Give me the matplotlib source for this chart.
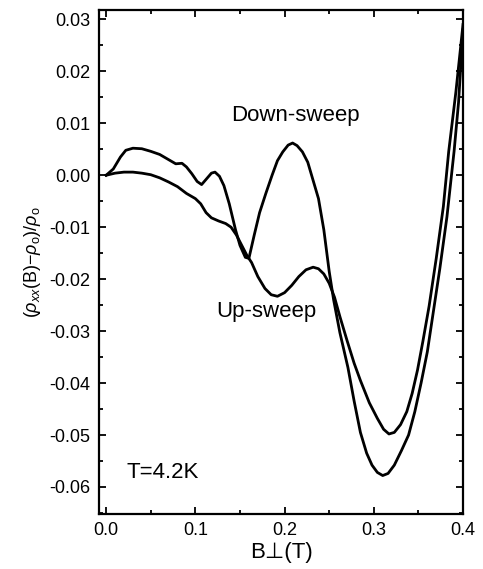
import matplotlib
matplotlib.use('Agg')
import matplotlib.pyplot as plt
from matplotlib.ticker import MultipleLocator, FormatStrFormatter

plt.rcParams['font.family'] = ['Liberation Sans', 'DejaVu Sans']
plt.rcParams['axes.unicode_minus'] = False
plt.rcParams['mathtext.fontset'] = 'custom'
plt.rcParams['mathtext.rm'] = 'Liberation Sans'
plt.rcParams['mathtext.it'] = 'Liberation Sans:italic'

# field B (T) and (rho_xx(B)-rho_0)/rho_0
b_down = [0.000, 0.008, 0.016, 0.022, 0.030, 0.040, 0.050, 0.060, 0.070, 0.078,
          0.085, 0.090, 0.096, 0.102, 0.107, 0.112, 0.118, 0.122, 0.127, 0.132,
          0.138, 0.145, 0.150, 0.156, 0.160, 0.166, 0.172, 0.179, 0.186, 0.192,
          0.198, 0.204, 0.209, 0.214, 0.220, 0.226, 0.232, 0.238, 0.244, 0.250,
          0.255, 0.262, 0.271, 0.278, 0.285, 0.292, 0.298, 0.304, 0.310, 0.316,
          0.323, 0.331, 0.339, 0.346, 0.353, 0.360, 0.367, 0.374, 0.382, 0.390,
          0.395, 0.400]
r_down = [0.0000, 0.0012, 0.0035, 0.0048, 0.0052, 0.0051, 0.0046, 0.0040, 0.0030, 0.0022,
          0.0023, 0.0016, 0.0003, -0.0012, -0.0018, -0.0008, 0.0004, 0.0006, -0.0002, -0.0020,
          -0.0055, -0.0105, -0.0135, -0.0158, -0.0160, -0.0115, -0.0072, -0.0035, 0.0000, 0.0028,
          0.0045, 0.0058, 0.0062, 0.0057, 0.0045, 0.0025, -0.0010, -0.0045, -0.0105, -0.0185,
          -0.0240, -0.0303, -0.0370, -0.0435, -0.0495, -0.0535, -0.0558, -0.0572, -0.0578, -0.0574,
          -0.0558, -0.0530, -0.0500, -0.0455, -0.0400, -0.0340, -0.0260, -0.0180, -0.0080, 0.0046,
          0.0140, 0.0280]

b_up = [0.000, 0.005, 0.010, 0.020, 0.030, 0.040, 0.050, 0.060, 0.070, 0.080,
        0.090, 0.100, 0.106, 0.112, 0.118, 0.126, 0.134, 0.140, 0.146, 0.152,
        0.158, 0.163, 0.170, 0.178, 0.185, 0.192, 0.200, 0.208, 0.216, 0.224,
        0.232, 0.238, 0.244, 0.250, 0.256, 0.262, 0.270, 0.278, 0.285, 0.295,
        0.304, 0.311, 0.317, 0.323, 0.330, 0.337, 0.343, 0.349, 0.355, 0.362,
        0.370, 0.378, 0.384, 0.392, 0.400]
r_up = [0.0000, 0.0002, 0.0004, 0.0006, 0.0006, 0.0004, 0.0001, -0.0005, -0.0013, -0.0022,
        -0.0035, -0.0045, -0.0055, -0.0072, -0.0082, -0.0088, -0.0093, -0.0100, -0.0115, -0.0135,
        -0.0155, -0.0168, -0.0195, -0.0218, -0.0230, -0.0233, -0.0226, -0.0212, -0.0195, -0.0182,
        -0.0177, -0.0180, -0.0190, -0.0208, -0.0235, -0.0272, -0.0318, -0.0362, -0.0395, -0.0438,
        -0.0468, -0.0489, -0.0498, -0.0495, -0.0480, -0.0455, -0.0420, -0.0375, -0.0320, -0.0252,
        -0.0160, -0.0060, 0.0046, 0.0160, 0.0290]

fig = plt.figure(figsize=(4.83, 5.69), dpi=100)
ax = fig.add_axes([0.205, 0.0967, 0.7536, 0.8857])

ax.plot(b_down, r_down, color='black', linewidth=2.0, solid_joinstyle='round')
ax.plot(b_up, r_up, color='black', linewidth=2.0, solid_joinstyle='round')

ax.set_xlim(-0.008, 0.4)
ax.set_ylim(-0.0652, 0.0318)

ax.xaxis.set_major_locator(MultipleLocator(0.1))
ax.xaxis.set_minor_locator(MultipleLocator(0.05))
ax.yaxis.set_major_locator(MultipleLocator(0.01))
ax.yaxis.set_minor_locator(MultipleLocator(0.005))
ax.xaxis.set_major_formatter(FormatStrFormatter('%.1f'))
ax.yaxis.set_major_formatter(FormatStrFormatter('%.2f'))

ax.tick_params(which='both', direction='in', top=True, right=True, width=1.3)
ax.tick_params(which='major', length=5, labelsize=13, pad=6)
ax.tick_params(which='minor', length=3)
for s in ax.spines.values():
    s.set_linewidth(1.6)

ax.text(0.212, 0.0115, 'Down-sweep', fontsize=16, ha='center', va='center')
ax.text(0.180, -0.0263, 'Up-sweep', fontsize=16, ha='center', va='center')
ax.text(0.063, -0.0573, 'T=4.2K', fontsize=16, ha='center', va='center')

ax.set_xlabel('B⊥(T)', fontsize=16, labelpad=2)
ax.set_ylabel(r'$(\rho_{xx}(\mathrm{B})\mathrm{-}\rho_\mathrm{o})/\rho_\mathrm{o}$', fontsize=13, labelpad=5)

fig.savefig('out.png', dpi=100)
